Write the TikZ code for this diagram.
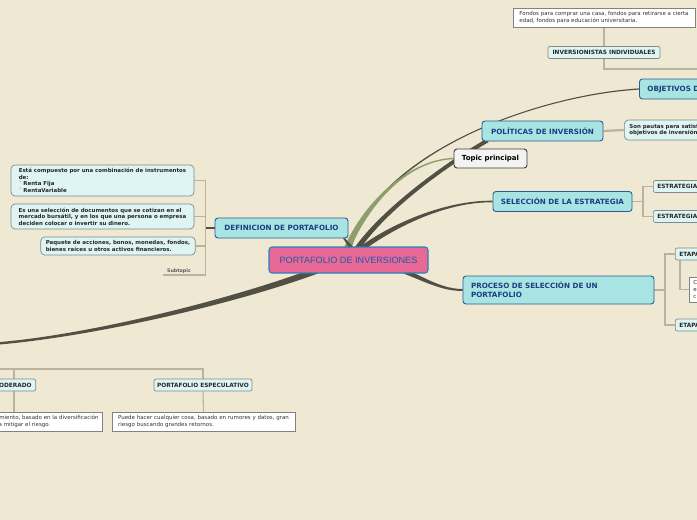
\documentclass[tikz,border=0pt]{standalone}
\usepackage{fontspec}
\newfontfamily\djsans{DejaVu Sans}
\newfontfamily\arialf{Liberation Sans}
\usetikzlibrary{calc}
\pgfdeclarelayer{bg}
\pgfsetlayers{bg,main}
\definecolor{bgc}{RGB}{239,232,211}
\definecolor{conncol}{RGB}{82,80,68}
\definecolor{greencol}{RGB}{140,158,105}
\definecolor{brcol}{RGB}{188,178,158}
\definecolor{mainfill}{RGB}{168,228,226}
\definecolor{mainborder}{RGB}{42,92,152}
\definecolor{maintext}{RGB}{28,62,130}
\definecolor{subfill}{RGB}{222,245,243}
\definecolor{subborder}{RGB}{128,138,138}
\definecolor{rootfill}{RGB}{232,104,150}
\definecolor{rootborder}{RGB}{40,130,190}
\definecolor{roottext}{RGB}{30,90,170}
\definecolor{topicfill}{RGB}{243,243,241}
\definecolor{topicborder}{RGB}{60,60,60}
\definecolor{noteborder}{RGB}{130,130,130}
\newcommand\tconn[7]{\fill[#1] ($(#2)+(#6)$) .. controls ($(#3)+(#6)$) and ($(#4)+(#7)$) .. ($(#5)+(#7)$) -- ($(#5)-(#7)$) .. controls ($(#4)-(#7)$) and ($(#3)-(#6)$) .. ($(#2)-(#6)$) -- cycle;}
\tikzset{
  rootbox/.style={draw=rootborder, fill=rootfill, line width=1.1pt, rounded corners=3pt, text=roottext, font=\arialf\fontsize{9.1}{11}\selectfont, inner sep=0pt, minimum width=159pt, minimum height=26pt},
  mainbox/.style={draw=mainborder, fill=mainfill, line width=0.9pt, rounded corners=3pt, text=maintext, font=\djsans\bfseries\fontsize{7.2}{8.6}\selectfont, inner sep=0pt, minimum height=20pt},
  topicbox/.style={draw=topicborder, fill=topicfill, line width=0.9pt, rounded corners=3pt, text=black, font=\djsans\bfseries\fontsize{7}{8.4}\selectfont, inner sep=0pt, minimum height=19pt, minimum width=73pt},
  subbox/.style={draw=subborder, fill=subfill, line width=0.7pt, rounded corners=2pt, text=black!85, font=\djsans\bfseries\fontsize{5.8}{7}\selectfont, inner sep=0pt, minimum height=12pt},
  notebox/.style={draw=noteborder, fill=white, line width=0.7pt, text=black!80, font=\djsans\fontsize{5.5}{6.6}\selectfont, align=left, inner xsep=4pt, inner ysep=0pt, minimum height=19pt},
  leftbox/.style={draw=subborder, fill=subfill, line width=0.7pt, rounded corners=4pt, text=black!85, font=\djsans\bfseries\fontsize{5.45}{6.5}\selectfont, align=left, inner xsep=5pt, inner ysep=0pt},
  subtopic/.style={text=black!65, font=\djsans\bfseries\fontsize{4.8}{5.5}\selectfont, inner xsep=1pt, inner ysep=1.5pt},
  conn/.style={fill=conncol},
  gconn/.style={fill=greencol},
  br/.style={draw=brcol, line width=1.1pt},
  brt/.style={draw=brcol, line width=2.2pt},
  dk/.style={draw=conncol, line width=1.3pt}
}
\begin{document}
\begin{tikzpicture}[x=1pt,y=-1pt]
\useasboundingbox (0,0) rectangle (697,520);
\clip (0,0) rectangle (697,520);
% main nodes
\node[rootbox] (root) at (348.5,260) {PORTAFOLIO DE INVERSIONES};
\node[mainbox, minimum width=133pt] (def) at (281.5,228) {DEFINICION DE PORTAFOLIO};
\node[mainbox, minimum width=121pt] (pol) at (542.5,131) {POLÍTICAS DE INVERSIÓN};
\node[topicbox] (top) at (490.5,158.5) {Topic principal};
\node[mainbox, minimum width=139pt] (sel) at (562.5,201.5) {SELECCIÓN DE LA ESTRATEGIA};
\node[mainbox, anchor=west, inner xsep=8pt] (obj) at (639,89) {OBJETIVOS DE INVERSIÓN};
\node[mainbox, minimum height=28pt, text width=175pt, inner xsep=8pt, align=left] (pro) at (558.5,290) {PROCESO DE SELECCIÓN DE UN\\PORTAFOLIO};
% top right
\node[notebox, minimum width=182pt] (fondos) at (604,17.5) {Fondos para comprar una casa, fondos para retirarse a cierta\\edad, fondos para educación universitaria.};
\node[subbox, minimum width=112pt] (inv) at (604,52.5) {INVERSIONISTAS INDIVIDUALES};
\coordinate (ib) at (700,69);
\node[leftbox, anchor=west, minimum height=20pt] (pautas) at (624,130) {Son pautas para satisfacer los\\objetivos de inversión.};
\node[subbox, anchor=west, text width=72pt, inner xsep=4pt, align=left] (est1) at (653,186.5) {ESTRATEGIA};
\node[subbox, anchor=west, text width=72pt, inner xsep=4pt, align=left] (est2) at (653,216.5) {ESTRATEGIA};
\node[subbox, anchor=west, text width=72pt, inner xsep=4pt, align=left] (et1) at (675,254) {ETAPA};
\node[subbox, anchor=west, text width=72pt, inner xsep=4pt, align=left] (et2) at (675,325) {ETAPA};
\node[notebox, anchor=west, text width=72pt, minimum height=25pt] (cnote) at (689,289.5) {C\\e\\c};
% left
\node[leftbox, minimum width=183pt, minimum height=31pt] (left1) at (102.5,180.5) {Está compuesto por una combinación de instrumentos\\de:\\˙ Renta Fija\\˙ RentaVariable};
\node[leftbox, minimum width=183pt, minimum height=25pt] (left2) at (102.5,216.5) {Es una selección de documentos que se cotizan en el\\mercado bursátil, y en los que una persona o empresa\\deciden colocar o invertir su dinero.};
\node[leftbox, minimum width=152pt, minimum height=18pt] (left3) at (118,246) {Paquete de acciones, bonos, monedas, fondos,\\bienes raíces u otros activos financieros.};
\node[subtopic, anchor=south] (sub) at (179,275) {Subtopic};
\coordinate (dbx) at (205.5,228);
% bottom left
\node[subbox, anchor=east, inner xsep=4pt] (mod) at (36,385) {PORTAFOLIO MODERADO};
\node[subbox, minimum width=98pt] (esp) at (203,385) {PORTAFOLIO ESPECULATIVO};
\node[notebox, anchor=east] (modnote) at (103,421.5) {Busca un buen rendimiento, basado en la diversificación\\de inversiones y para mitigar el riesgo.};
\node[notebox, minimum width=183pt] (espnote) at (203.5,421.5) {Puede hacer cualquier cosa, basado en rumores y datos, gran\\riesgo buscando grandes retornos.};
\coordinate (bl) at (-3,369);
\coordinate (mx) at (14,369);
\coordinate (lb) at (-3,343.5);

\begin{pgfonlayer}{bg}
\fill[bgc] (0,0) rectangle (697,520);
% curved branches
\coordinate (sO) at ($(root.north)+(1,3)$);
\tconn{conn}{sO}{380,150}{540,95}{obj.west}{1.3,0}{0,0.6}
\coordinate (sT) at ($(root.north)+(-2,3)$);
\tconn{gconn}{sT}{368,200}{410,160}{top.west}{3.3,0}{0,0.7}
\coordinate (sP) at ($(root.north)+(8,3)$);
\coordinate (eP) at ($(pol.south west)+(6,-1)$);
\tconn{conn}{sP}{382,212}{440,168}{eP}{3.2,0}{1,1.7}
\coordinate (sS) at ($(root.north)+(12,3)$);
\tconn{conn}{sS}{392,226}{445,201}{sel.west}{1.5,2}{0,0.8}
\coordinate (sD) at ($(root.north)+(5,3)$);
\coordinate (eD) at ($(def.south east)+(-5,-1)$);
\tconn{conn}{sD}{350,246}{346,241}{eD}{2.5,0}{1,0}
\coordinate (sR) at ($(root.center)+(25,0)$);
\tconn{conn}{sR}{415,272}{435,290}{pro.west}{0,3}{0,1}
\coordinate (sL) at ($(root.center)+(-10,2)$);
\tconn{conn}{sL}{260,295}{100,335}{lb}{1,3}{0,1.2}
% brackets
\draw[br] (fondos.south) -- (inv.north);
\draw[br] (inv.south) |- (ib);
\draw[brt] (pol.east) -- (pautas.west);
\coordinate (sx) at (643,201.5);
\draw[br] (sel.east) -- (sx);
\draw[br] (est1.west) -| (sx) |- (est2.west);
\coordinate (px) at (665,290);
\draw[br] (pro.east) -- (px);
\draw[br] (et1.west) -| (px) |- (et2.west);
\draw[br] ($(et1.south west)+(5,0)$) |- (cnote.west);
\draw[dk] (def.west) -- (dbx);
\draw[br] (left1.east) -| (dbx);
\draw[br] (left2.east) -- (left2.east -| dbx);
\draw[br] (left3.east) -- (left3.east -| dbx);
\draw[br] (dbx) -- (dbx |- sub.south) -- ($(sub.south west)+(-3,0)$);
\draw[br] (bl) -| (esp.north);
\draw[br] (mx) -- (mx |- mod.north);
\draw[br] (mx |- mod.south) -- (mx |- modnote.north);
\draw[br] (esp.south) -- (espnote.north);
\end{pgfonlayer}
\end{tikzpicture}
\end{document}
